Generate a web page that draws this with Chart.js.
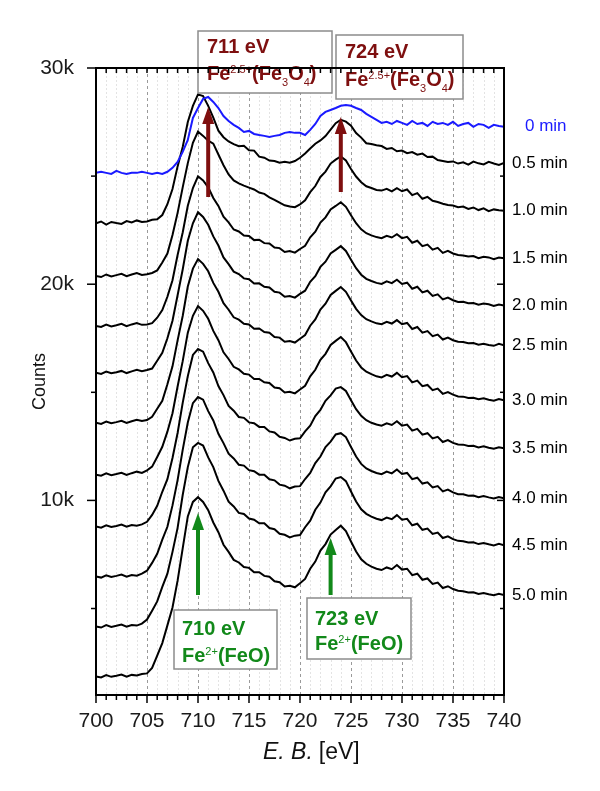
<!DOCTYPE html>
<html>
<head>
<meta charset="utf-8">
<script src="https://cdn.jsdelivr.net/npm/chart.js@4.4.0/dist/chart.umd.min.js"></script>
<style>
  html, body { margin: 0; padding: 0; background: #fff; }
  #wrap { width: 600px; height: 791px; }
</style>
</head>
<body>
<div id="wrap"><canvas id="xpsChart" width="600" height="791"></canvas></div>
<script>
// binding energy (eV)
const energies = [
  700, 700.5, 701, 701.5, 702, 702.5, 703, 703.5, 704, 704.5,
  705, 705.5, 706, 706.5, 707, 707.5, 708, 708.5, 709, 709.5,
  710, 710.5, 711, 711.5, 712, 712.5, 713, 713.5, 714, 714.5,
  715, 715.5, 716, 716.5, 717, 717.5, 718, 718.5, 719, 719.5,
  720, 720.5, 721, 721.5, 722, 722.5, 723, 723.5, 724, 724.5,
  725, 725.5, 726, 726.5, 727, 727.5, 728, 728.5, 729, 729.5,
  730, 730.5, 731, 731.5, 732, 732.5, 733, 733.5, 734, 734.5,
  735, 735.5, 736, 736.5, 737, 737.5, 738, 738.5, 739, 739.5,
  740
];

const sputterTimes = ['0 min', '0.5 min', '1.0 min', '1.5 min', '2.0 min', '2.5 min',
  '3.0 min', '3.5 min', '4.0 min', '4.5 min', '5.0 min'];

const yTickValues = [5000, 10000, 15000, 20000, 25000, 30000];

// counts
const counts00 = [
  25150, 25200, 25150, 25100, 25240, 25150, 25100, 25150, 25150, 25200,
  25150, 25100, 25150, 25100, 25200, 25380, 25660, 26120, 26670, 27690,
  28150, 28570, 28660, 28430, 28150, 27780, 27550, 27370, 27230, 27040,
  27090, 26950, 26900, 26860, 26810, 26860, 26900, 27000, 27040, 27000,
  27000, 26900, 27140, 27410, 27780, 27970, 28060, 28150, 28250, 28290,
  28250, 28150, 28060, 27880, 27740, 27600, 27460, 27510, 27410, 27550,
  27460, 27370, 27550, 27410, 27460, 27320, 27510, 27410, 27460, 27370,
  27510, 27320, 27410, 27460, 27280, 27410, 27370, 27230, 27370, 27320,
  27280
];
const counts05 = [
  22820, 22900, 22760, 22880, 22830, 22790, 22920, 22860, 22950, 22880,
  22900, 22980, 23000, 23200, 23700, 24400, 25450, 26350, 27500, 28250,
  28780, 28700, 28250, 27700, 27100, 26800, 26600, 26480, 26380, 26400,
  26200, 26180, 25900, 25850, 25720, 25700, 25620, 25660, 25620, 25700,
  25850, 26050, 26280, 26500, 26650, 26850, 27150, 27450, 27600, 27520,
  27330, 26990, 26780, 26520, 26480, 26430, 26390, 26260, 26300, 26150,
  26180, 26060, 26110, 25990, 26040, 25880, 25900, 25740, 25700, 25650,
  25680, 25580, 25640, 25530, 25670, 25590, 25540, 25660, 25580, 25520,
  25610
];
const counts10 = [
  20380, 20330, 20450, 20360, 20420, 20480, 20370, 20450, 20520, 20430,
  20460, 20520, 20640, 21000, 21420, 22280, 23300, 24480, 25600, 26540,
  27060, 26860, 26640, 26500, 26000, 25500, 25080, 24800, 24660, 24560,
  24470, 24380, 24240, 24180, 24020, 23900, 23770, 23650, 23590, 23560,
  23690, 23880, 24260, 24540, 24960, 25210, 25580, 25760, 25910, 25720,
  25330, 24980, 24720, 24530, 24450, 24360, 24330, 24410, 24290, 24440,
  24300, 24380, 24120, 24210, 23950, 24040, 23860, 23800, 23720, 23660,
  23640, 23560, 23590, 23480, 23550, 23430, 23510, 23380, 23460, 23420,
  23400
];
const counts15 = [
  18070, 18020, 18130, 18050, 18100, 18170, 18060, 18140, 18200, 18120,
  18140, 18200, 18450, 18800, 19420, 20180, 21350, 22390, 23630, 24450,
  24990, 24800, 24480, 23990, 23620, 23120, 22860, 22530, 22440, 22250,
  22230, 22040, 22060, 21900, 21880, 21700, 21670, 21490, 21530, 21460,
  21630, 21780, 22170, 22430, 22850, 23090, 23460, 23620, 23790, 23580,
  23190, 22820, 22540, 22360, 22260, 22180, 22130, 22240, 22160, 22310,
  22130, 22190, 21920, 22010, 21760, 21830, 21600, 21680, 21450, 21540,
  21420, 21350, 21330, 21280, 21300, 21200, 21270, 21240, 21160, 21230,
  21200
];
const counts20 = [
  15900, 15850, 15960, 15880, 15930, 15990, 15890, 15970, 16040, 15980,
  16030, 16100, 16460, 16830, 17500, 18310, 19490, 20680, 22010, 22820,
  23330, 23110, 22750, 22210, 21790, 21240, 20930, 20580, 20470, 20270,
  20230, 20030, 20040, 19880, 19850, 19650, 19610, 19420, 19450, 19380,
  19550, 19700, 20110, 20370, 20800, 21040, 21420, 21590, 21760, 21540,
  21130, 20740, 20440, 20250, 20150, 20060, 20010, 20130, 20050, 20210,
  20010, 20070, 19790, 19880, 19620, 19700, 19460, 19530, 19300, 19380,
  19260, 19180, 19190, 19120, 19130, 19050, 19110, 19070, 18990, 19060,
  19020
];
const counts25 = [
  13590, 13540, 13650, 13570, 13620, 13680, 13580, 13660, 13730, 13670,
  13720, 13870, 14240, 14610, 15370, 16200, 17400, 18530, 19890, 20720,
  21160, 20940, 20600, 20060, 19650, 19120, 18820, 18470, 18360, 18170,
  18140, 17940, 17950, 17790, 17760, 17560, 17530, 17340, 17370, 17300,
  17480, 17650, 18080, 18370, 18830, 19100, 19500, 19690, 19870, 19650,
  19250, 18860, 18570, 18380, 18280, 18190, 18150, 18260, 18180, 18340,
  18150, 18210, 17930, 18020, 17760, 17830, 17600, 17670, 17440, 17530,
  17410, 17340, 17330, 17270, 17280, 17200, 17250, 17190, 17150, 17240,
  17170
];
const counts30 = [
  11190, 11140, 11250, 11170, 11220, 11280, 11180, 11260, 11330, 11270,
  11390, 11560, 12010, 12480, 13180, 14030, 15270, 16440, 17760, 18540,
  18990, 18770, 18400, 17840, 17410, 16850, 16540, 16180, 16060, 15860,
  15820, 15620, 15620, 15460, 15430, 15220, 15190, 14990, 15020, 14950,
  15130, 15300, 15740, 16040, 16500, 16780, 17190, 17380, 17560, 17320,
  16890, 16470, 16150, 15950, 15840, 15740, 15690, 15810, 15730, 15900,
  15700, 15750, 15460, 15540, 15280, 15340, 15100, 15170, 14930, 15010,
  14890, 14810, 14800, 14740, 14750, 14680, 14720, 14660, 14610, 14690,
  14630
];
const counts35 = [
  8790, 8740, 8850, 8770, 8820, 8880, 8780, 8860, 8830, 8890,
  9010, 9330, 9750, 10400, 10980, 11960, 13120, 14510, 15750, 16730,
  17000, 16880, 16350, 15920, 15290, 14870, 14370, 14150, 13860, 13820,
  13610, 13570, 13400, 13400, 13190, 13140, 12940, 12890, 12770, 12850,
  12870, 13190, 13460, 13900, 14190, 14610, 14860, 15170, 15240, 15060,
  14630, 14220, 13910, 13710, 13590, 13510, 13460, 13570, 13490, 13660,
  13460, 13510, 13230, 13310, 13040, 13110, 12870, 12940, 12700, 12790,
  12660, 12590, 12580, 12520, 12530, 12450, 12500, 12440, 12390, 12460,
  12410
];
const counts40 = [
  6480, 6430, 6540, 6460, 6510, 6570, 6470, 6550, 6520, 6610,
  6750, 7110, 7530, 8190, 8780, 9770, 10940, 12340, 13600, 14500,
  14780, 14660, 14130, 13700, 13080, 12650, 12160, 11940, 11650, 11610,
  11400, 11350, 11190, 11190, 10980, 10930, 10730, 10680, 10560, 10640,
  10660, 10990, 11270, 11730, 12030, 12470, 12720, 13050, 13110, 12930,
  12470, 12030, 11690, 11480, 11360, 11270, 11210, 11330, 11250, 11430,
  11220, 11270, 10980, 11050, 10780, 10840, 10600, 10660, 10420, 10500,
  10370, 10290, 10280, 10220, 10230, 10150, 10200, 10140, 10090, 10160,
  10100
];
const counts45 = [
  4170, 4120, 4230, 4150, 4200, 4260, 4160, 4240, 4210, 4300,
  4490, 4900, 5330, 6000, 6610, 7620, 8730, 10250, 11540, 12460,
  12660, 12540, 11990, 11540, 10900, 10450, 9940, 9720, 9420, 9370,
  9160, 9110, 8940, 8940, 8720, 8670, 8460, 8410, 8290, 8370,
  8400, 8760, 9060, 9570, 9900, 10370, 10650, 11010, 11080, 10890,
  10410, 9950, 9590, 9380, 9250, 9150, 9090, 9210, 9130, 9320,
  9110, 9150, 8850, 8920, 8640, 8700, 8450, 8510, 8260, 8340,
  8210, 8130, 8110, 8050, 8060, 7980, 8030, 7970, 7920, 7990,
  7930
];
const counts50 = [
  1860, 1810, 1920, 1840, 1890, 1950, 1850, 1930, 1900, 1970,
  2000, 2250, 2820, 3400, 4220, 5050, 6290, 7780, 9260, 9930,
  10150, 9930, 9550, 8980, 8530, 7950, 7620, 7250, 7130, 6920,
  6880, 6680, 6680, 6510, 6470, 6260, 6220, 6020, 6050, 5980,
  6170, 6370, 6840, 7170, 7680, 7980, 8420, 8630, 8830, 8580,
  8100, 7640, 7280, 7070, 6940, 6840, 6780, 6900, 6820, 7010,
  6800, 6840, 6540, 6610, 6330, 6390, 6140, 6200, 5950, 6030,
  5900, 5820, 5800, 5740, 5750, 5670, 5720, 5660, 5610, 5680,
  5620
];

const allCounts = [counts00, counts05, counts10, counts15, counts20, counts25,
  counts30, counts35, counts40, counts45, counts50];

// peak assignments
const peakEnergies = [711, 724, 710, 723];
const peakTitles = ['711 eV', '724 eV', '710 eV', '723 eV'];

const FONT = '"Liberation Sans", Arial, sans-serif';
const RED = '#7e0f0f';
const GREEN = '#12891a';
const BLUE = '#1a1aff';

const datasets = allCounts.map((arr, k) => ({
    label: sputterTimes[k],
    data: energies.map((e, i) => ({ x: e, y: arr[i] })),
    borderColor: k === 0 ? BLUE : '#000',
    borderWidth: 2,
    pointRadius: 0,
    tension: 0,
    fill: false
}));

function richText(ctx, x, y, parts, color) {
    let cx = x;
    ctx.fillStyle = color;
    ctx.textAlign = 'left';
    ctx.textBaseline = 'alphabetic';
    parts.forEach(p => {
        ctx.font = (p.bold ? 'bold ' : '') + p.size + 'px ' + FONT;
        ctx.fillText(p.t, cx, y + (p.dy || 0));
        cx += ctx.measureText(p.t).width;
    });
}

const fe25 = [
    { t: 'Fe', size: 20, bold: true }, { t: '2.5+', size: 11, dy: -7 },
    { t: '(Fe', size: 20, bold: true }, { t: '3', size: 11, dy: 6 },
    { t: 'O', size: 20, bold: true }, { t: '4', size: 11, dy: 6 },
    { t: ')', size: 20, bold: true }
];
const fe2 = [
    { t: 'Fe', size: 20, bold: true }, { t: '2+', size: 11, dy: -7 },
    { t: '(FeO)', size: 20, bold: true }
];

function arrow(ctx, x, yTail, yTip, color) {
    ctx.fillStyle = color;
    ctx.fillRect(x - 2, yTip + 14, 4, yTail - yTip - 14);
    ctx.beginPath();
    ctx.moveTo(x, yTip);
    ctx.lineTo(x - 6, yTip + 17);
    ctx.lineTo(x + 6, yTip + 17);
    ctx.closePath();
    ctx.fill();
}

function noteBox(ctx, l, t, r, b) {
    ctx.fillStyle = '#fff';
    ctx.fillRect(l, t, r - l, b - t);
    ctx.strokeStyle = '#8c8c8c';
    ctx.lineWidth = 1.5;
    ctx.strokeRect(l, t, r - l, b - t);
}

const gridPlugin = {
    id: 'gridLines',
    beforeDatasetsDraw(chart) {
        const { ctx, chartArea: a, scales: { x: xs } } = chart;
        ctx.save();
        ctx.lineWidth = 1;
        for (let e = 701; e < 740; e++) {
            const x = Math.round(xs.getPixelForValue(e)) + 0.5;
            const major = e % 5 === 0;
            ctx.strokeStyle = major ? '#9a9a9a' : '#e3e3e3';
            ctx.setLineDash(major ? [3, 3] : [2, 2]);
            ctx.beginPath();
            ctx.moveTo(x, a.top);
            ctx.lineTo(x, a.bottom);
            ctx.stroke();
        }
        ctx.restore();
    }
};

const decorPlugin = {
    id: 'decor',
    afterDatasetsDraw(chart) {
        const { ctx, chartArea: a, scales: { x: xs, y: ys } } = chart;
        ctx.save();

        // arrows and boxes for the peak positions
        arrow(ctx, xs.getPixelForValue(peakEnergies[0]), 197, 107, RED);
        arrow(ctx, xs.getPixelForValue(peakEnergies[1]), 192, 117, RED);
        arrow(ctx, xs.getPixelForValue(peakEnergies[2]), 595, 513, GREEN);
        arrow(ctx, xs.getPixelForValue(peakEnergies[3]), 595, 538, GREEN);

        noteBox(ctx, 198, 31, 332, 93);
        richText(ctx, 207, 53, [{ t: peakTitles[0], size: 20, bold: true }], RED);
        richText(ctx, 207, 80, fe25, RED);

        noteBox(ctx, 336, 35, 463, 99);
        richText(ctx, 345, 58, [{ t: peakTitles[1], size: 20, bold: true }], RED);
        richText(ctx, 345, 86, fe25, RED);

        noteBox(ctx, 174, 610, 277, 669);
        richText(ctx, 182, 635, [{ t: peakTitles[2], size: 20, bold: true }], GREEN);
        richText(ctx, 182, 662, fe2, GREEN);

        noteBox(ctx, 307, 598, 411, 659);
        richText(ctx, 315, 625, [{ t: peakTitles[3], size: 20, bold: true }], GREEN);
        richText(ctx, 315, 650, fe2, GREEN);

        // frame
        ctx.setLineDash([]);
        ctx.strokeStyle = '#000';
        ctx.lineWidth = 2;
        ctx.strokeRect(a.left, a.top, a.right - a.left, a.bottom - a.top);

        ctx.lineWidth = 1.5;
        const seg = (x1, y1, x2, y2) => {
            ctx.beginPath(); ctx.moveTo(x1, y1); ctx.lineTo(x2, y2); ctx.stroke();
        };
        for (let e = 700; e <= 740; e++) {
            const x = xs.getPixelForValue(e);
            const major = e % 5 === 0;
            seg(x, a.bottom, x, a.bottom + (major ? 8 : 5));
            seg(x, a.top, x, a.top + 5);
        }
        yTickValues.forEach(v => {
            const y = ys.getPixelForValue(v);
            const major = v % 10000 === 0;
            seg(a.left - (major ? 9 : 5), y, a.left, y);
            seg(a.right - (major ? 7 : 4), y, a.right, y);
        });

        // sputter time labels at the end of each trace
        ctx.font = '17px ' + FONT;
        ctx.textAlign = 'left';
        ctx.textBaseline = 'middle';
        allCounts.forEach((arr, k) => {
            const y = ys.getPixelForValue(arr[arr.length - 1]);
            ctx.fillStyle = k === 0 ? BLUE : '#000';
            ctx.fillText(sputterTimes[k], k === 0 ? 525 : 512, y);
        });

        // axis titles
        ctx.fillStyle = '#111';
        ctx.textBaseline = 'alphabetic';
        ctx.font = 'italic 23px ' + FONT;
        ctx.fillText('E. B.', 263, 759);
        const w = ctx.measureText('E. B.').width;
        ctx.font = '23px ' + FONT;
        ctx.fillText('[eV]', 263 + w + 6, 759);

        ctx.translate(40, (a.top + a.bottom) / 2);
        ctx.rotate(-Math.PI / 2);
        ctx.textAlign = 'center';
        ctx.textBaseline = 'middle';
        ctx.font = '18px ' + FONT;
        ctx.fillText('Counts', 0, 0);
        ctx.restore();
    }
};

new Chart(document.getElementById('xpsChart'), {
    type: 'line',
    data: { datasets: datasets },
    options: {
        responsive: false,
        animation: false,
        layout: { padding: { left: 0, right: 96, top: 68, bottom: 0 } },
        plugins: {
            legend: { display: false },
            tooltip: { enabled: false }
        },
        scales: {
            x: {
                type: 'linear',
                min: 700,
                max: 740,
                afterFit: s => { s.height = 96; },
                grid: { display: false },
                border: { display: false },
                ticks: {
                    stepSize: 5,
                    autoSkip: false,
                    maxRotation: 0,
                    padding: 6,
                    color: '#1a1a1a',
                    font: { family: FONT, size: 21 }
                }
            },
            y: {
                min: 1000,
                max: 30000,
                afterFit: s => { s.width = 96; },
                afterBuildTicks: s => { s.ticks = yTickValues.map(v => ({ value: v })); },
                grid: { display: false },
                border: { display: false },
                ticks: {
                    autoSkip: false,
                    padding: 14,
                    color: '#1a1a1a',
                    font: { family: FONT, size: 21 },
                    callback: v => (v % 10000 === 0 ? (v / 1000) + 'k' : '')
                }
            }
        }
    },
    plugins: [gridPlugin, decorPlugin]
});
</script>
</body>
</html>
